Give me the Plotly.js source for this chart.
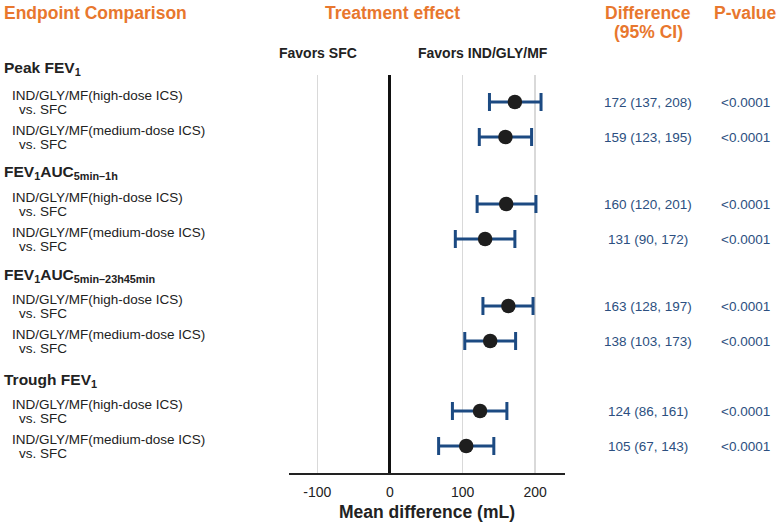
<!DOCTYPE html>
<html><head><meta charset="utf-8">
<script src="https://cdn.plot.ly/plotly-3.0.1.min.js"></script>
<style>html,body{margin:0;padding:0;background:#fff}#chart{width:778px;height:522px}</style>
</head><body><div id="chart"></div>
<script>
// ---- Data ----
const groups = ["Peak FEV<sub>1</sub>", "FEV<sub>1</sub>AUC<sub>5min–1h</sub>", "FEV<sub>1</sub>AUC<sub>5min–23h45min</sub>", "Trough FEV<sub>1</sub>"];
const comparisons = ["IND/GLY/MF(high-dose ICS)", "IND/GLY/MF(medium-dose ICS)"];
const estimate = [172, 159, 160, 131, 163, 138, 124, 105];
const ciLow    = [137, 123, 120, 90, 128, 103, 86, 67];
const ciHigh   = [208, 195, 201, 172, 197, 173, 161, 143];
const pValues  = ["<0.0001", "<0.0001", "<0.0001", "<0.0001", "<0.0001", "<0.0001", "<0.0001", "<0.0001"];
const xTicks   = [-100, 0, 100, 200];

// ---- Layout helpers ----
const W = 778, H = 522, plotTop = 75, plotBot = 473, plotL = 289, plotR = 565;
const groupStart = [102, 204, 306, 411]; // pixel centre of first row in each group
const rowGap = 35;
const rowPix = [];
groups.forEach((g, gi) => comparisons.forEach((c, ci) => rowPix.push(groupStart[gi] + ci * rowGap)));
const py = p => (plotBot - p) / (plotBot - plotTop); // pixel -> paper
const px = p => (p - plotL) / (plotR - plotL);

const ORANGE = "#E8772E", BLUE = "#1C4A82", TBLUE = "#2C4F80", DARK = "#222222";
const FONT = "Liberation Sans, Arial, sans-serif";

const yVals = rowPix.map(p => py(p));
const trace = {
  type: "scatter", mode: "markers",
  x: estimate, y: yVals, yaxis: "y",
  marker: { size: 14.5, color: "#1e1e1e" },
  error_x: { type: "data", symmetric: false,
    array: estimate.map((e, i) => ciHigh[i] - e),
    arrayminus: estimate.map((e, i) => e - ciLow[i]),
    color: BLUE, thickness: 3, width: 9 },
  cliponaxis: false, hoverinfo: "skip"
};

const ann = [];
const A = (text, x, y, opts) => ann.push(Object.assign({ text, x, y, xref: "paper", yref: "paper",
  showarrow: false, xanchor: "left", yanchor: "middle", font: { family: FONT, size: 13, color: DARK } }, opts || {}));

// headers
A("<b>Endpoint Comparison</b>", px(2), py(13), { font: { family: FONT, size: 17.5, color: ORANGE } });
A("<b>Treatment effect</b>", px(392), py(13), { xanchor: "center", font: { family: FONT, size: 17.5, color: ORANGE } });
A("<b>Difference</b>", px(648), py(13), { xanchor: "center", font: { family: FONT, size: 17.5, color: ORANGE } });
A("<b>(95% CI)</b>", px(648), py(32), { xanchor: "center", font: { family: FONT, size: 17.5, color: ORANGE } });
A("<b>P-value</b>", px(745), py(13), { xanchor: "center", font: { family: FONT, size: 17.5, color: ORANGE } });
A("<b>Favors SFC</b>", px(318), py(53), { xanchor: "center", font: { family: FONT, size: 14, color: DARK } });
A("<b>Favors IND/GLY/MF</b>", px(483), py(53), { xanchor: "center", font: { family: FONT, size: 14, color: DARK } });

const groupPix = [68, 172, 275, 380];
groups.forEach((g, gi) => A("<b>" + g + "</b>", px(2), py(groupPix[gi]), { font: { family: FONT, size: 15.5, color: DARK } }));
rowPix.forEach((p, i) => {
  A(comparisons[i % 2], px(10), py(p - 7), { font: { family: FONT, size: 13.5, color: DARK } });
  A("vs. SFC", px(17), py(p + 7), { font: { family: FONT, size: 13.5, color: DARK } });
  A(estimate[i] + " (" + ciLow[i] + ", " + ciHigh[i] + ")", px(648), py(p), { xanchor: "center", font: { family: FONT, size: 13.5, color: TBLUE } });
  A(pValues[i], px(745), py(p), { xanchor: "center", font: { family: FONT, size: 13.5, color: TBLUE } });
});

const layout = {
  width: W, height: H, showlegend: false,
  paper_bgcolor: "#fff", plot_bgcolor: "#fff",
  margin: { l: plotL, r: W - plotR, t: plotTop, b: H - plotBot, pad: 0 },
  xaxis: { range: [-139, 241], tickvals: xTicks, ticktext: xTicks.map(String), showgrid: true,
    gridcolor: "#d9d9d9", gridwidth: 1.5, zeroline: true, zerolinecolor: "#111", zerolinewidth: 3,
    showline: true, linecolor: "#222", linewidth: 1.5, ticks: "", ticklen: 0, ticklabelstandoff: 6,
    tickfont: { family: FONT, size: 14, color: DARK },
    title: { text: "<b>Mean difference (mL)</b>", font: { family: FONT, size: 17.5, color: DARK }, standoff: 6 },
    fixedrange: true },
  yaxis: { range: [0, 1], visible: false, showgrid: false, zeroline: false, fixedrange: true },
  annotations: ann
};
Plotly.newPlot("chart", [trace], layout, { displayModeBar: false, staticPlot: true });
</script></body></html>
